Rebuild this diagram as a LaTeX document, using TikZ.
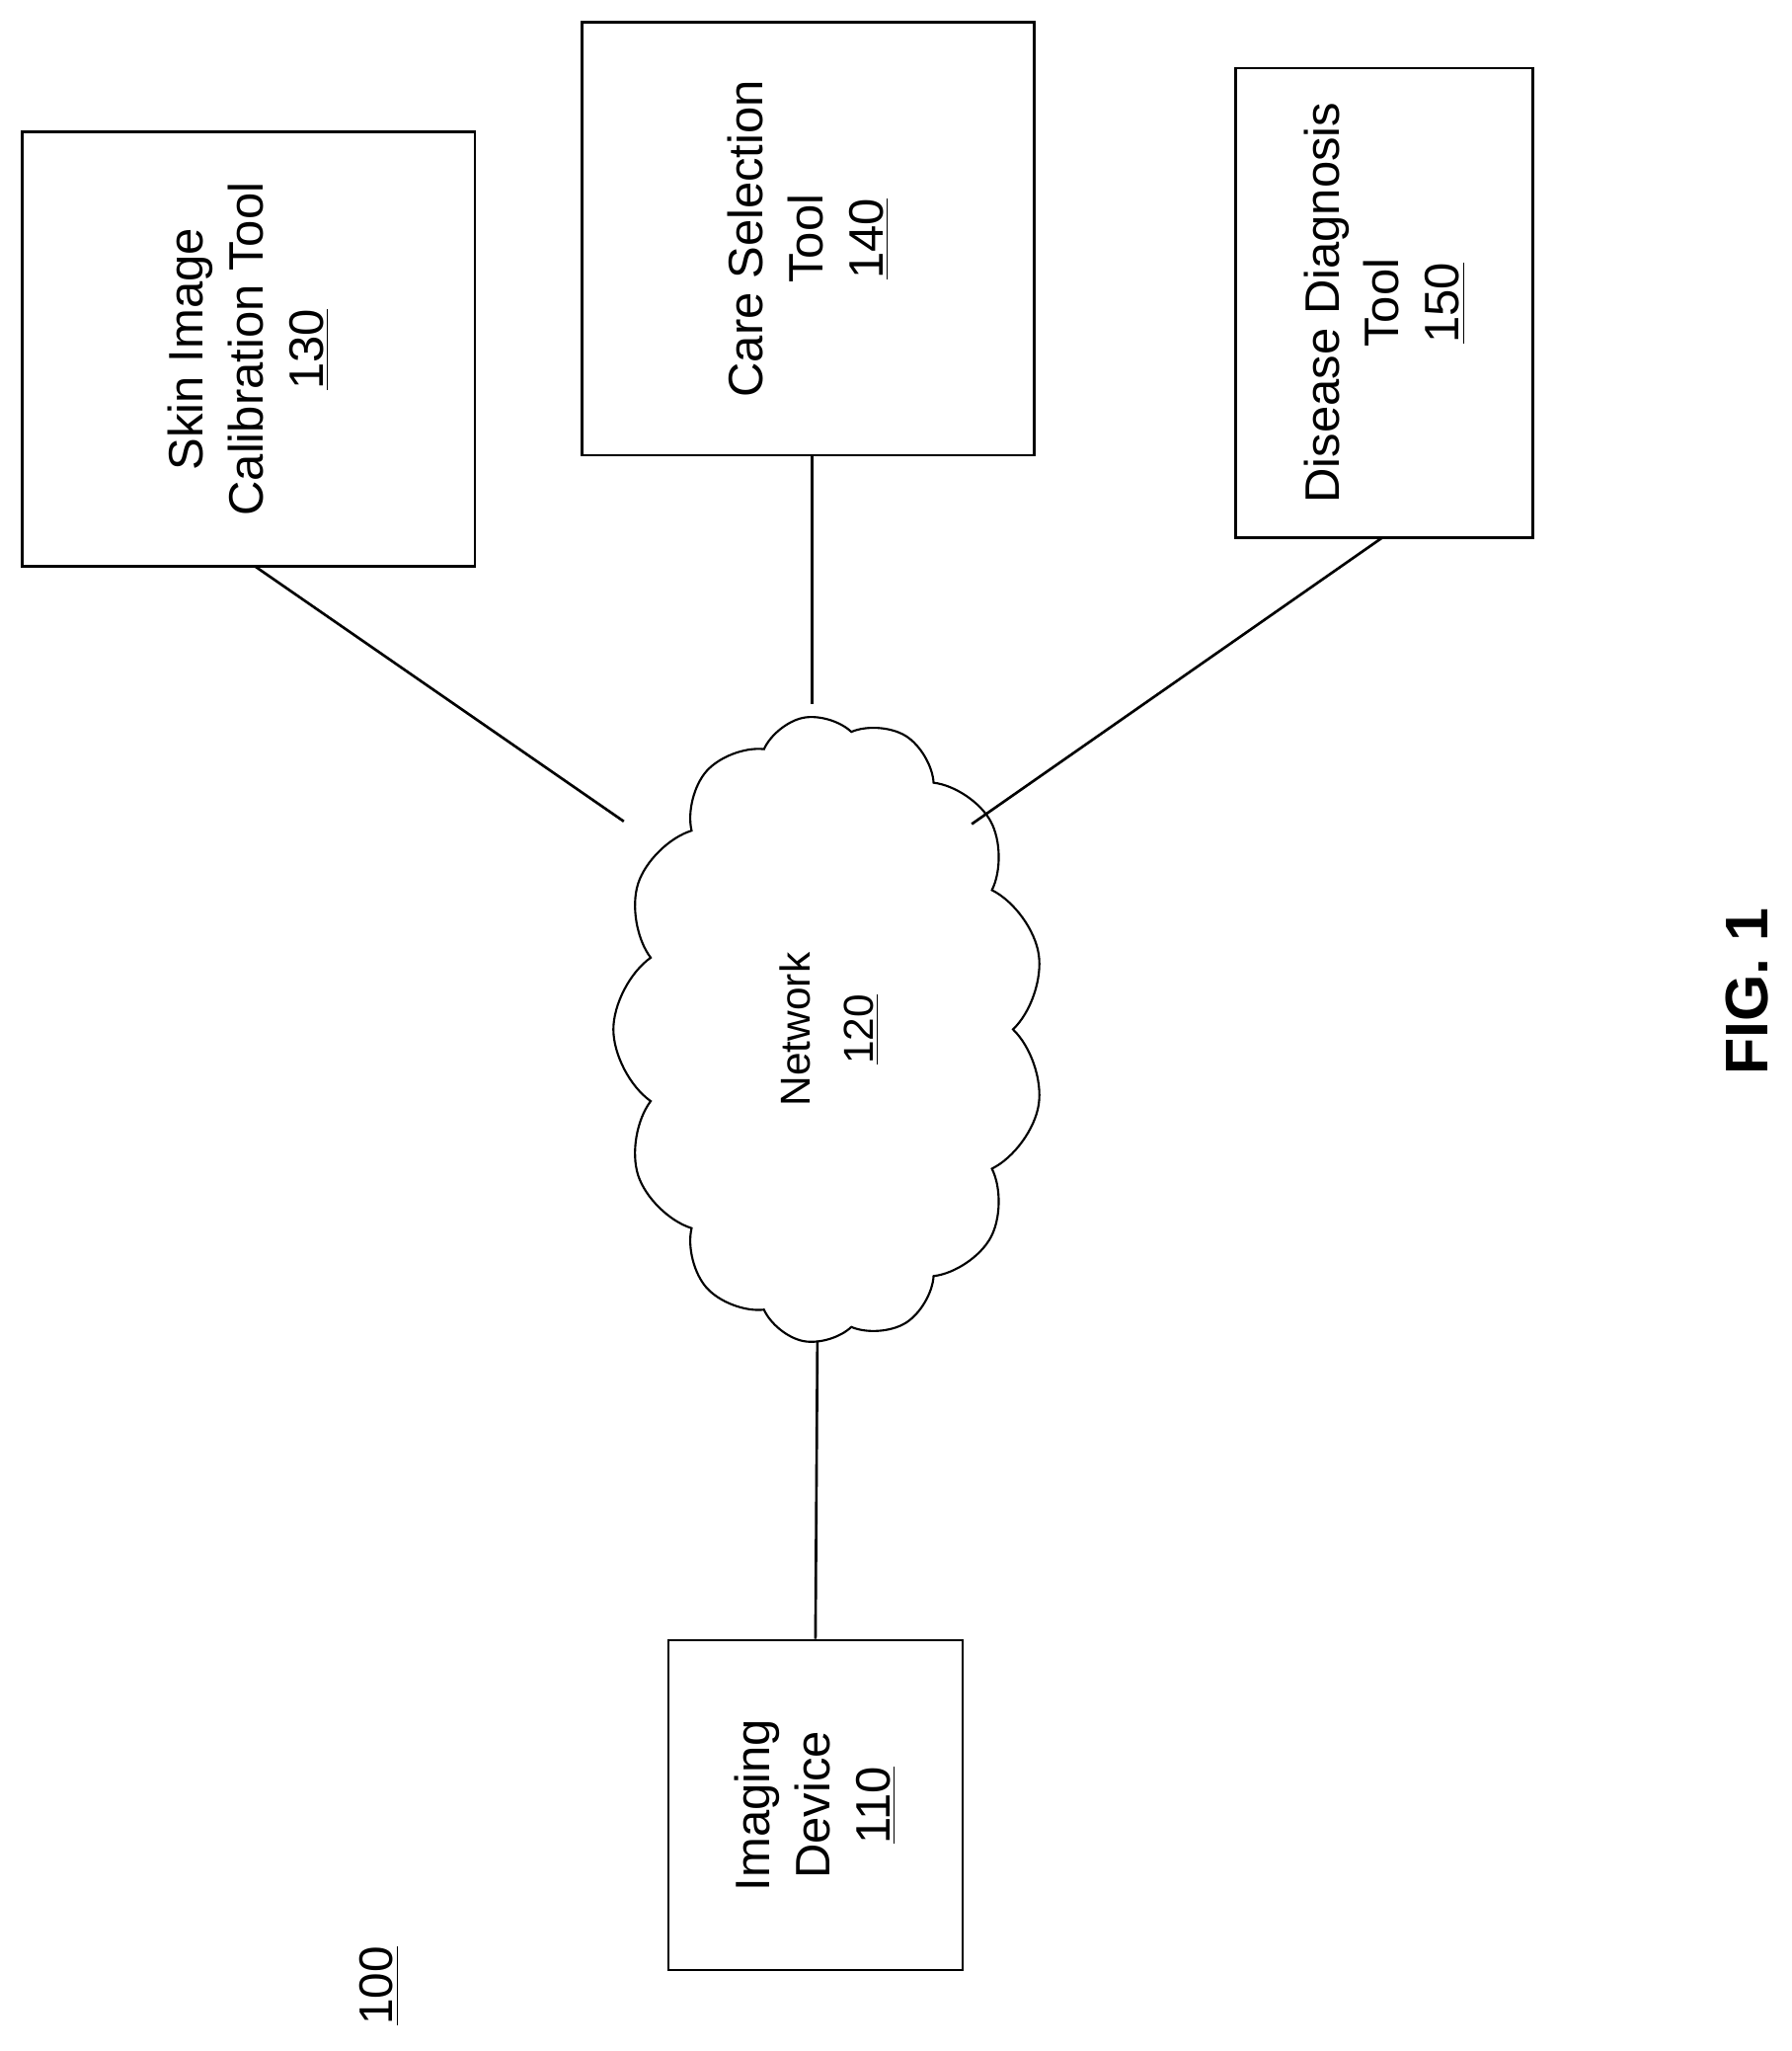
\documentclass[tikz,border=0pt]{standalone}
\usepackage{fontspec}
\setmainfont{Liberation Sans}
\usetikzlibrary{shapes.symbols}
\begin{document}
\begin{tikzpicture}[x=0.5pt,y=0.5pt,
  box/.style={draw,line width=1pt,rotate=90,align=center,font=\fontsize{18.5}{23}\selectfont},
  link/.style={line width=1pt}]
\useasboundingbox (0,0) rectangle (1370,1568);
\node[box,minimum width=166pt,minimum height=173pt] (c130) at (190,1301) {Skin Image\\Calibration Tool\\\underline{130}};
\node[box,minimum width=165.5pt,minimum height=173pt] (c140) at (618,1385.5) {Care Selection\\Tool\\\underline{140}};
\node[box,minimum width=179.5pt,minimum height=113.5pt] (c150) at (1058.5,1336.5) {Disease Diagnosis\\Tool\\\underline{150}};
\node[box,minimum width=126pt,minimum height=112.5pt] (c110) at (623.5,188) {Imaging\\Device\\\underline{110}};
\node[draw,line width=0.8pt,cloud,cloud puffs=13,cloud puff arc=110,cloud ignores aspect,rotate=90,
  minimum width=240pt,minimum height=165pt,align=center,font=\fontsize{16}{24}\selectfont] (net) at (634,781) {Network\\\underline{120}};
\coordinate (p130) at (477,940);
\coordinate (p140) at (621,1030);
\coordinate (p150) at (743,938);
\coordinate (p110) at (625,543);
\draw[link] (195,1135) -- (p130);
\draw[link] (621,1220) -- (p140);
\draw[link] (1057,1157) -- (p150);
\draw[link] (c110.east) -- (p110);
\node[rotate=90,font=\fontsize{18}{22}\selectfont] (n100) at (290,50) {\underline{100}};
\node[rotate=90,font=\bfseries\fontsize{23}{28}\selectfont] (fig) at (1336,810) {FIG. 1};
\end{tikzpicture}
\end{document}
